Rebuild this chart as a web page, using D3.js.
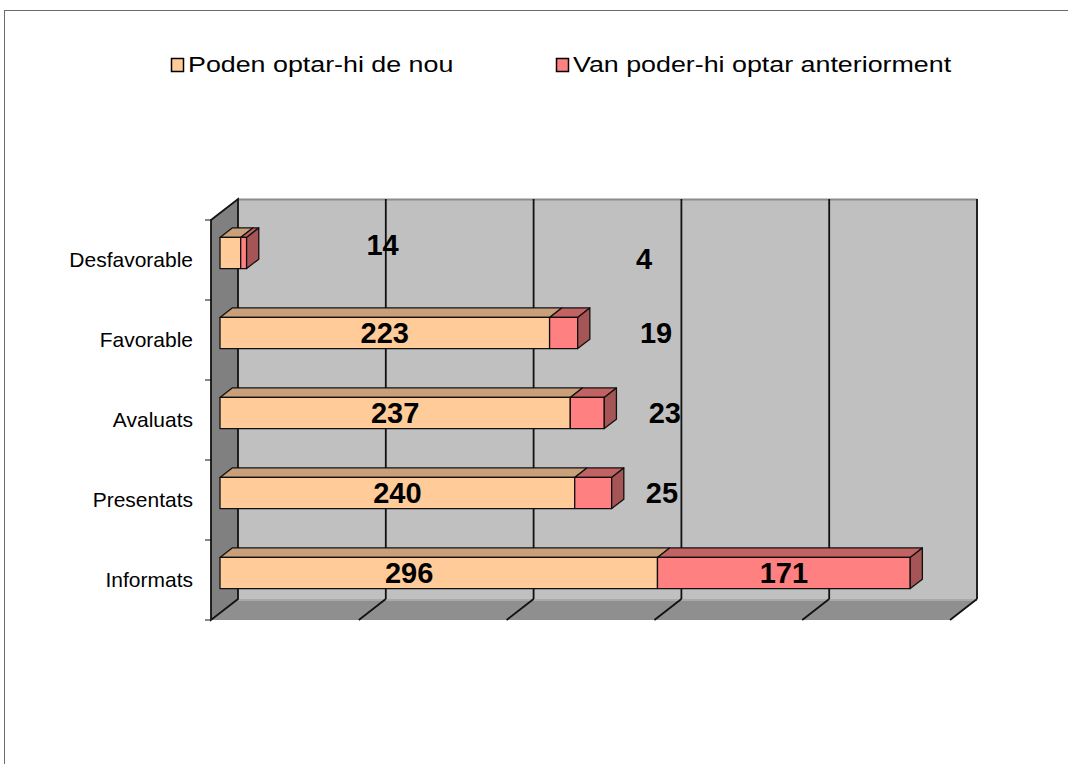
<!DOCTYPE html>
<html>
<head>
<meta charset="utf-8">
<script src="https://cdn.jsdelivr.net/npm/d3@7"></script>
<style>
    body { margin: 0; background: #fff; }
    svg { display: block; }
    text { font-family: "Liberation Sans", Arial, sans-serif; }
</style>
</head>
<body>
<script>
// --- data (top to bottom as in the picture)
var categories = ['Desfavorable', 'Favorable', 'Avaluats', 'Presentats', 'Informats']
var poden = [14, 223, 237, 240, 296]
var van = [4, 19, 23, 25, 171]
var seriesNames = ['Poden optar-hi de nou', 'Van poder-hi optar anteriorment']
var ticks = [0, 100, 200, 300, 400, 500]
// labels were dragged by hand in the original: where they sit on the value axis
var podenLabelAt = [110, 111.5, 118.5, 120, 128]
var vanLabelAt = [287, 295, 301, 299, 381.5]
var podenLabelLift = [-8, 0, 0, 0, 0]
var vanLabelLift = [6, 0, 0, 0, 0]

var W = 1068, H = 764
var colors = {
    poden: { front: '#ffcc99', top: '#c9a07a', side: '#b08a66' },
    van: { front: '#ff8080', top: '#c26262', side: '#a55555' }
}

var svg = d3.select('body').append('svg')
    .attr('width', W)
    .attr('height', H)

// outer frame
svg.append('rect')
    .attr('x', 4.5).attr('y', 10.5)
    .attr('width', W).attr('height', H)
    .attr('fill', 'none')
    .attr('stroke', '#6b6b6b')

// --- 3d helpers: front plane + depth offset
var depthX = 27, depthY = -21
var x = d3.scaleLinear().domain([0, 500]).range([211, 950])
var y = d3.scaleBand().domain(categories).range([220, 620])
var yTop = y.range()[0], yBot = y.range()[1]

function p(v, yy, d) { return [x(v) + depthX * d, yy + depthY * d] }
function poly(pts) { return pts.map(function (q) { return q.join(',') }).join(' ') }

// back wall
svg.append('polygon')
    .attr('points', poly([p(0, yTop, 1), p(500, yTop, 1), p(500, yBot, 1), p(0, yBot, 1)]))
    .attr('fill', '#c0c0c0')
svg.append('line')
    .attr('x1', p(0, yTop, 1)[0]).attr('y1', p(0, yTop, 1)[1] + 0.5)
    .attr('x2', p(500, yTop, 1)[0]).attr('y2', p(500, yTop, 1)[1] + 0.5)
    .attr('stroke', '#8c8c8c').attr('stroke-width', 2)
svg.append('line')
    .attr('x1', p(500, yTop, 1)[0]).attr('y1', p(500, yTop, 1)[1])
    .attr('x2', p(500, yBot, 1)[0]).attr('y2', p(500, yBot, 1)[1])
    .attr('stroke', '#222').attr('stroke-width', 2)

// floor
svg.append('polygon')
    .attr('points', poly([p(0, yBot, 0), p(0, yBot, 1), p(500, yBot, 1), p(500, yBot, 0)]))
    .attr('fill', '#8f8f8f')
svg.append('line')
    .attr('x1', p(0, yBot, 1)[0]).attr('y1', p(0, yBot, 1)[1] + 1)
    .attr('x2', p(500, yBot, 1)[0]).attr('y2', p(500, yBot, 1)[1] + 1)
    .attr('stroke', '#a9a9a9').attr('stroke-width', 2)

// gridlines: back wall verticals + floor diagonals
var grid = svg.append('g').attr('stroke', '#111').attr('stroke-width', 1.8)
grid.selectAll('line.back')
    .data(ticks.slice(1, -1))
    .enter().append('line')
    .attr('class', 'back')
    .attr('x1', function (d) { return p(d, yTop, 1)[0] })
    .attr('y1', function (d) { return p(d, yTop, 1)[1] })
    .attr('x2', function (d) { return p(d, yBot, 1)[0] })
    .attr('y2', function (d) { return p(d, yBot, 1)[1] })
grid.selectAll('line.floor')
    .data(ticks.slice(1))
    .enter().append('line')
    .attr('class', 'floor')
    .attr('x1', function (d) { return p(d, yBot, 1)[0] })
    .attr('y1', function (d) { return p(d, yBot, 1)[1] })
    .attr('x2', function (d) { return p(d, yBot, 0)[0] })
    .attr('y2', function (d) { return p(d, yBot, 0)[1] })

// left wall
svg.append('polygon')
    .attr('points', poly([p(0, yTop, 0), p(0, yTop, 1), p(0, yBot, 1), p(0, yBot, 0)]))
    .attr('fill', '#808080')
    .attr('stroke', '#111')
    .attr('stroke-width', 1.8)

// category ticks
var tickYs = categories.map(function (c) { return y(c) }).concat([yBot])
svg.selectAll('line.tick')
    .data(tickYs)
    .enter().append('line')
    .attr('class', 'tick')
    .attr('x1', x(0) - 6).attr('x2', x(0))
    .attr('y1', function (d) { return d }).attr('y2', function (d) { return d })
    .attr('stroke', '#111')

// category labels
svg.selectAll('text.cat')
    .data(categories)
    .enter().append('text')
    .attr('class', 'cat')
    .attr('transform', function (d) { return 'translate(193,' + (y(d) + y.bandwidth() / 2) + ') scale(1.05,1)' })
    .attr('text-anchor', 'end')
    .attr('dy', '.35em')
    .attr('font-size', 20)
    .attr('fill', '#000')
    .text(function (d) { return d })

// --- bars
var d0 = 1 / 3, d1 = d0 + 0.45
var barH = y.bandwidth() * 0.39

categories.forEach(function (c, i) {
    var cy = y(c) + y.bandwidth() / 2
    var yt = cy - barH / 2, yb = cy + barH / 2
    var segs = [
        { a: 0, b: poden[i], col: colors.poden },
        { a: poden[i], b: poden[i] + van[i], col: colors.van }
    ]
    var g = svg.append('g')
        .attr('stroke', '#111')
        .attr('stroke-width', 1.3)
        .attr('stroke-linejoin', 'round')

    segs.forEach(function (s) {
        g.append('polygon')
            .attr('points', poly([p(s.a, yt, d0), p(s.b, yt, d0), p(s.b, yt, d1), p(s.a, yt, d1)]))
            .attr('fill', s.col.top)
        g.append('polygon')
            .attr('points', poly([p(s.a, yt, d0), p(s.b, yt, d0), p(s.b, yb, d0), p(s.a, yb, d0)]))
            .attr('fill', s.col.front)
    })
    var last = segs[1]
    g.append('polygon')
        .attr('points', poly([p(last.b, yt, d0), p(last.b, yt, d1), p(last.b, yb, d1), p(last.b, yb, d0)]))
        .attr('fill', last.col.side)
})

// --- value labels
function addLabels(vals, at, lift) {
    svg.selectAll(null)
        .data(vals)
        .enter().append('text')
        .attr('x', function (d, i) { return p(at[i], 0, d0)[0] })
        .attr('y', function (d, i) { return y(categories[i]) + y.bandwidth() / 2 + depthY * d0 + lift[i] })
        .attr('dy', '.36em')
        .attr('text-anchor', 'middle')
        .attr('font-size', 29)
        .attr('font-weight', 'bold')
        .attr('fill', '#000')
        .text(function (d) { return d })
}
addLabels(poden, podenLabelAt, podenLabelLift)
addLabels(van, vanLabelAt, vanLabelLift)

// --- legend
var legendX = [171, 556]
var legendFill = [colors.poden.front, colors.van.front]
var leg = svg.selectAll('g.leg')
    .data(seriesNames)
    .enter().append('g')
    .attr('class', 'leg')
    .attr('transform', function (d, i) { return 'translate(' + legendX[i] + ',58)' })
leg.append('rect')
    .attr('x', 0.5).attr('y', 0.5)
    .attr('width', 12).attr('height', 13)
    .attr('fill', function (d, i) { return legendFill[i] })
    .attr('stroke', '#000')
    .attr('stroke-width', 1.5)
leg.append('text')
    .attr('transform', 'translate(17,14) scale(1.22,1)')
    .attr('font-size', 22)
    .attr('fill', '#000')
    .text(function (d) { return d })
</script>
</body>
</html>
